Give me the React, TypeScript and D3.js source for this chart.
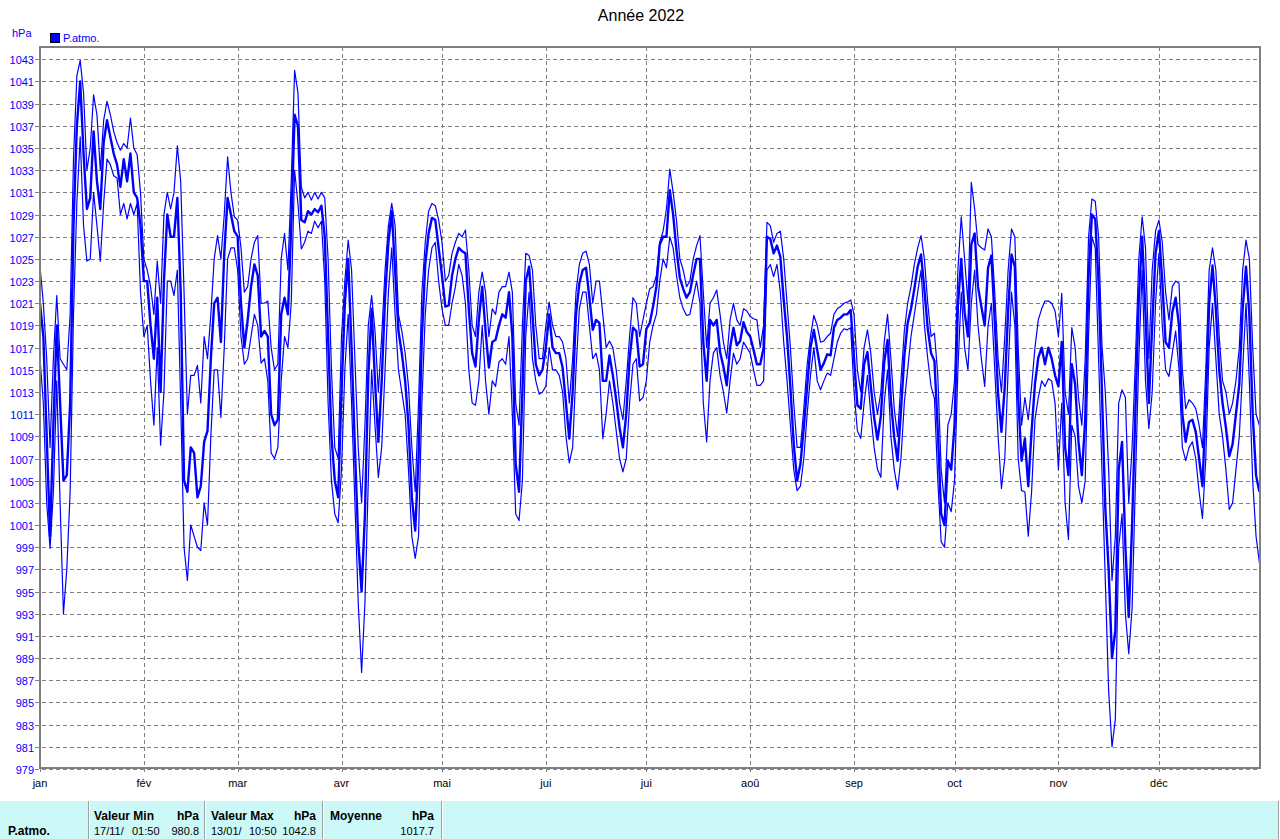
import React from "react";
import * as d3 from "d3";

const TITLE = "Année 2022";
const UNIT = "hPa";
const SERIES_NAME = "P.atmo.";
const monthLabels = ["jan", "fév", "mar", "avr", "mai", "jui", "jui", "aoû", "sep", "oct", "nov", "déc"];
const monthStartDays = [0, 31, 59, 90, 120, 151, 181, 212, 243, 273, 304, 334];
const yTicks = d3.range(979, 1044, 2);

// daily mean pressure (hPa), day 0 = 1 Jan
const meanValues = [
  1021, 1018, 1009, 1000, 1010, 1019, 1012, 1005, 1005.5, 1012, 1028, 1037, 1041, 1034.5, 1029.5, 1030.5, 1036.5, 1032, 1029.5, 1035.5, 1037.5, 1036, 1034.5, 1033.5, 1031.5, 1034, 1032, 1034.5, 1031, 1030.5, 1028,
  1023, 1023, 1019, 1016, 1021.5, 1013, 1023, 1029, 1027, 1027, 1030.5, 1022, 1005, 1004, 1008, 1007.5, 1003.5, 1004.5, 1008.5, 1009.5, 1016, 1021, 1021.5, 1017.5, 1025.5, 1030.5, 1029, 1027.5,
  1027, 1021, 1017, 1019.5, 1022.5, 1024.5, 1023.5, 1018, 1018.5, 1018, 1011, 1010, 1010.5, 1020, 1021.5, 1020, 1028, 1038, 1037, 1028.5, 1028.3, 1029.3, 1029, 1029.5, 1029.2, 1029.8, 1027, 1018, 1009, 1005, 1003.5,
  1013, 1021, 1025, 1017, 1008, 999.5, 995, 1002, 1014.5, 1020.5, 1014, 1008.5, 1014, 1021.5, 1026.5, 1029.3, 1024, 1018.5, 1016.5, 1014, 1010, 1003.5, 1000.5, 1007, 1018, 1024.5, 1027.3, 1028.7, 1028.5, 1026,
  1023.5, 1020.7, 1020.8, 1023.5, 1025, 1026, 1025.7, 1025.5, 1020.5, 1016.5, 1015.3, 1019.5, 1022.5, 1018.5, 1015.2, 1017.5, 1017.7, 1019, 1020, 1019.7, 1022, 1018, 1006.5, 1004, 1013, 1023, 1024.3, 1020, 1015.5, 1014.5, 1015,
  1017, 1020, 1017, 1016.5, 1016.5, 1015.2, 1012, 1008.8, 1013, 1020, 1022.8, 1024, 1024.2, 1021.5, 1018.6, 1019.5, 1019.2, 1014, 1014, 1016.3, 1014.5, 1012.3, 1009.8, 1008, 1011, 1016, 1018.8, 1018.5, 1015.3, 1015.5,
  1018.7, 1019.2, 1020.7, 1022.5, 1026.3, 1027, 1027, 1031.2, 1029, 1025.8, 1023.3, 1022.3, 1021.5, 1022, 1023.6, 1025, 1025, 1017.5, 1014, 1019.5, 1019, 1019.5, 1016.6, 1015.3, 1013.6, 1017, 1018.8, 1017.2, 1017.6, 1019.3, 1018.4,
  1018, 1016.8, 1015.5, 1015.5, 1017, 1027, 1026.8, 1025.5, 1026.2, 1025.2, 1021.3, 1018, 1013.4, 1008.3, 1005, 1006.5, 1009.8, 1013.5, 1017, 1018.6, 1016.8, 1015, 1015.6, 1016.4, 1016.3, 1018.8, 1019.5, 1019.7, 1020, 1020, 1020.4,
  1016, 1011.8, 1011.5, 1015.5, 1016.6, 1013.5, 1010.7, 1008.7, 1010.8, 1015.7, 1017.7, 1012.2, 1008.9, 1006.8, 1011.3, 1016.2, 1019.2, 1020.5, 1022.3, 1024.3, 1025.4, 1022.2, 1018.7, 1016.5, 1015.8, 1009.5, 1002, 1001, 1006.8, 1006,
  1010, 1020.8, 1025, 1020.2, 1018, 1026.3, 1027.3, 1022.5, 1020.7, 1019, 1024.2, 1025.3, 1019.4, 1012.8, 1009.4, 1013.5, 1020.4, 1025.4, 1024.3, 1012.5, 1006.8, 1008.8, 1004.5, 1009.5, 1013.7, 1016.1, 1017, 1015.5, 1017, 1016, 1014.5,
  1013.5, 1017.5, 1008, 1005.5, 1015.5, 1013.7, 1008.5, 1005.5, 1010.5, 1023.5, 1029, 1028.6, 1022.8, 1013, 1002.5, 997, 989, 991.5, 1006, 1008.5, 999, 992.7, 1001, 1011.5, 1021.5, 1027, 1020, 1012, 1019, 1025.5,
  1027.5, 1023, 1017.5, 1017, 1020.2, 1021.5, 1019, 1011, 1008.5, 1010.3, 1010.5, 1009.4, 1007, 1004.5, 1012, 1021, 1024.4, 1020.5, 1015, 1012, 1009.8, 1007.2, 1008.3, 1011, 1013.7, 1020.5, 1024.3, 1020, 1011, 1005.5, 1004,
];

// daily maximum envelope (hPa)
const maxValues = [
  1024.3, 1021, 1016, 1008, 1016, 1021.7, 1016, 1015.5, 1015, 1020, 1034, 1041.5, 1042.9, 1040, 1033, 1035, 1039.8, 1038, 1033, 1037.5, 1039.2, 1038, 1036.5, 1035.5, 1034.8, 1035.4, 1035, 1037.7, 1035, 1034.4, 1031,
  1025, 1024, 1022.5, 1020, 1024.8, 1021, 1029, 1031, 1029.5, 1031, 1035.2, 1032, 1022, 1011, 1014.5, 1014.5, 1015.4, 1012, 1018, 1016, 1020, 1025, 1027.1, 1025, 1029, 1034.2, 1031, 1028.8,
  1028.5, 1026, 1022, 1022.5, 1025, 1026.5, 1027.1, 1021, 1021, 1021.2, 1017, 1015, 1015.5, 1025, 1027.3, 1024, 1032, 1042, 1040, 1031.5, 1030.5, 1031, 1030.3, 1031, 1030.4, 1031, 1030.5, 1025, 1015, 1008, 1007,
  1018, 1023, 1026.7, 1024, 1016, 1008, 1003, 1010, 1019, 1021.7, 1018.5, 1013, 1018, 1024, 1028, 1030, 1028, 1020, 1018.5, 1016.5, 1013.5, 1008, 1004, 1012, 1022, 1026.5, 1029.3, 1030, 1029.8, 1028.5,
  1026.5, 1023, 1023.5, 1025.5, 1026.5, 1027.3, 1027, 1027.6, 1024, 1019, 1018, 1022, 1023.8, 1022, 1018, 1020.5, 1020, 1022, 1022.5, 1022.5, 1023.8, 1022, 1012, 1010, 1019, 1025.5, 1025.3, 1024, 1019, 1016, 1016,
  1019, 1021.1, 1019, 1018, 1018, 1017.5, 1016, 1012, 1016, 1022, 1024.5, 1025.5, 1025.7, 1024.5, 1021, 1023, 1023, 1020, 1017, 1017.6, 1017, 1015, 1012, 1010.5, 1014, 1018, 1021.5, 1021, 1018, 1019.5,
  1021, 1022.3, 1022.5, 1023.5, 1026.5, 1027.5, 1029.5, 1033.1, 1031, 1028.5, 1025, 1024, 1022.5, 1023, 1025, 1026.2, 1027.1, 1022, 1017, 1021, 1021.5, 1022.2, 1020, 1017.5, 1016, 1019.5, 1021, 1019.5, 1019, 1020.5, 1020.3,
  1019.8, 1019.6, 1019.5, 1017, 1019, 1028.3, 1028, 1026.5, 1027.3, 1027.5, 1025, 1021, 1017, 1012, 1008, 1008, 1011.5, 1015.5, 1018, 1019.9, 1019, 1017.5, 1017.6, 1018, 1018.3, 1020, 1020.5, 1020.7, 1021, 1021.1, 1021.3,
  1020, 1015, 1013, 1017, 1018.6, 1016.5, 1013, 1011, 1013, 1017.5, 1020, 1016, 1011.5, 1009, 1014, 1018.5, 1021, 1022.5, 1024.5, 1026, 1027.1, 1025, 1021, 1018, 1018.3, 1014.5, 1006, 1003, 1010, 1011,
  1014, 1024, 1028.8, 1025, 1021, 1031.9, 1029.5, 1026.3, 1026, 1025.8, 1027.7, 1027, 1022, 1016, 1013, 1018, 1024, 1027.7, 1027, 1017, 1010, 1012.5, 1010.5, 1013.5, 1017, 1019.5, 1020.5, 1021.2, 1021.2, 1021, 1020.3,
  1018, 1021.9, 1013, 1011, 1018.8, 1017, 1012.5, 1010, 1016, 1027, 1030.4, 1030.2, 1027, 1017.2, 1013, 1006, 996, 1000, 1012, 1013.2, 1012.5, 1003, 1008, 1016, 1025, 1028.8, 1026, 1016, 1024, 1027.5,
  1028.5, 1026.5, 1022, 1019.5, 1022.5, 1023, 1022.8, 1015, 1011.5, 1012.3, 1012, 1011.5, 1010, 1008, 1015, 1024, 1026, 1024, 1018, 1014, 1013, 1011, 1012, 1014, 1017, 1024, 1026.7, 1025, 1017, 1011, 1010,
];

// daily minimum envelope (hPa)
const minValues = [
  1016, 1012, 1003, 998.9, 1004, 1014, 1003, 993, 997, 1004, 1020, 1030, 1036, 1028, 1024.8, 1025, 1031, 1028, 1024.8, 1030, 1034, 1033.5, 1032.5, 1032.3, 1029, 1030, 1028.6, 1030, 1029, 1030, 1022,
  1018, 1019, 1014, 1010, 1017, 1008.2, 1013, 1023, 1023, 1021.7, 1024, 1012, 999, 996, 1001, 1000, 999, 998.7, 1003, 1001, 1009, 1015, 1015, 1010.7, 1017, 1025, 1026, 1026,
  1024, 1018, 1015.5, 1016, 1018, 1020, 1019, 1015.6, 1016, 1014, 1007.5, 1007, 1008, 1014, 1018, 1017, 1021, 1033, 1030, 1025.9, 1026.5, 1027.5, 1027.3, 1028.4, 1027.8, 1028.4, 1023, 1012, 1005, 1002, 1001.2,
  1006, 1015, 1020, 1012, 1003, 994, 987.7, 994, 1005, 1015, 1010, 1005.3, 1008, 1015, 1022, 1026, 1020, 1015, 1013, 1011, 1006, 1000, 998, 1000, 1012, 1020, 1024, 1026, 1026.5, 1023,
  1020.5, 1019, 1019, 1021, 1022.5, 1024.5, 1023.5, 1021, 1015, 1012, 1011.8, 1014, 1019, 1014, 1011, 1014, 1013.5, 1015.7, 1016, 1015.5, 1018, 1011, 1002, 1001.4, 1005, 1018, 1022, 1016, 1014, 1012.8, 1013,
  1013.5, 1017, 1015, 1015, 1014.5, 1013, 1009, 1006.6, 1008, 1015, 1020.5, 1022, 1022, 1019, 1016, 1016.5, 1015, 1008.8, 1011, 1014, 1012, 1009.5, 1007, 1005.8, 1007, 1012, 1015.5, 1016, 1012.2, 1012.5,
  1014, 1017.5, 1019, 1020, 1023, 1025, 1024.2, 1027, 1026, 1023.5, 1021.5, 1020.5, 1019.9, 1020, 1021.5, 1023, 1021, 1012, 1008.5, 1014, 1016.5, 1017, 1014.5, 1013, 1011.1, 1014, 1016.5, 1015.5, 1016, 1017.5, 1017,
  1016.5, 1015, 1013.6, 1013.6, 1014, 1024, 1024.5, 1023.4, 1024.5, 1022, 1017.5, 1014, 1010, 1006, 1004.1, 1004.5, 1007, 1011, 1014.5, 1017, 1014, 1013.2, 1014, 1014.7, 1014.5, 1016, 1017.5, 1018.3, 1018.7, 1018.6, 1018.8,
  1013, 1009.5, 1008.8, 1012, 1014.5, 1011, 1008, 1006, 1005.3, 1012, 1015, 1009, 1006, 1004.2, 1007, 1012, 1015, 1018, 1020, 1022, 1024, 1019, 1016, 1013.5, 1012.4, 1005, 999.5, 999, 1003, 1002.2,
  1005, 1015, 1022, 1017, 1015, 1021, 1024, 1019, 1016, 1013.5, 1019, 1021, 1015, 1009, 1004.3, 1007, 1015, 1022, 1019, 1007, 1004.1, 1004, 1000, 1004, 1010.5, 1012.5, 1014, 1013.5, 1014.2, 1014, 1012,
  1006, 1012, 1003, 999.7, 1010, 1009, 1004.5, 1003, 1005, 1018, 1027, 1026, 1016, 1006, 996, 986, 981, 983.5, 999, 1002, 993, 989.4, 993.5, 1005, 1016, 1024, 1014, 1009.7, 1013, 1021,
  1025.5, 1019, 1015, 1014.4, 1016.5, 1018.5, 1015, 1008, 1006.8, 1008, 1008.5, 1007, 1004, 1001.6, 1007, 1017, 1021, 1016, 1011, 1009, 1006, 1002.4, 1003, 1006, 1009, 1015, 1021, 1014, 1005, 1000, 997.6,
];

const tableColumns = ["Valeur Min", "Valeur Max", "Moyenne"];
const tableDates = ["17/11/", "13/01/", ""];
const tableTimes = ["01:50", "10:50", ""];
const tableValues = ["980.8", "1042.8", "1017.7"];

const FONT = "'Liberation Sans', Arial, sans-serif";
const BLUE = "#0000ff";
const GRID = "#808080";

export default function App() {
  const W = 1280;
  const H = 839;
  const left = 40;
  const right = 1260;
  const top = 47;
  const bottom = 768;

  const x = d3.scaleLinear().domain([0, 365]).range([left, left + 365 * 3.35]);
  const y = d3.scaleLinear().domain([979, 1043]).range([769, 59.3]);

  const line = d3
    .line<number>()
    .x((_, i) => x(i))
    .y((v) => y(v));

  const colLeft = [94, 211, 330];
  const colRight = [199, 316, 434];
  const seps = [88, 204, 322, 441, 1278];

  return (
    <div style={{ position: "absolute", left: 0, top: 0 }}>
      <svg width={W} height={H} style={{ display: "block", background: "#fff" }} fontFamily={FONT}>
        <defs>
          <clipPath id="plotClip">
            <rect x={left} y={top} width={right - left} height={bottom - top} />
          </clipPath>
        </defs>
        <rect x={0} y={0} width={W} height={H} fill="#fff" />

        <text x={641} y={21} textAnchor="middle" fontSize={16} fill="#000">
          {TITLE}
        </text>
        <text x={12} y={37} fontSize={11} fill={BLUE}>
          {UNIT}
        </text>
        <rect x={50.5} y={33.5} width={9} height={9} fill={BLUE} stroke="#000" strokeWidth={1} />
        <text x={63} y={42} fontSize={11} fill={BLUE}>
          {SERIES_NAME}
        </text>

        {yTicks.map((t) => (
          <g key={t}>
            <line
              x1={35}
              x2={right}
              y1={Math.round(y(t)) + 0.5}
              y2={Math.round(y(t)) + 0.5}
              stroke={GRID}
              strokeDasharray="4,3"
              shapeRendering="crispEdges"
            />
            <text x={34} y={Math.round(y(t)) + 4.5} textAnchor="end" fontSize={11} fill={BLUE}>
              {t}
            </text>
          </g>
        ))}

        {monthStartDays.map((d, i) => (
          <g key={i}>
            <line
              x1={Math.round(x(d)) + 0.5}
              x2={Math.round(x(d)) + 0.5}
              y1={top}
              y2={774}
              stroke={GRID}
              strokeDasharray="4,3"
              shapeRendering="crispEdges"
            />
            <text x={x(d)} y={787} textAnchor="middle" fontSize={11} fill="#000">
              {monthLabels[i]}
            </text>
          </g>
        ))}

        <g clipPath="url(#plotClip)" fill="none" stroke={BLUE} strokeLinejoin="round">
          <path d={line(maxValues) || ""} strokeWidth={1.2} />
          <path d={line(minValues) || ""} strokeWidth={1.2} />
          <path d={line(meanValues) || ""} strokeWidth={2.4} />
        </g>

        <rect
          x={left}
          y={top}
          width={right - left}
          height={bottom - top}
          fill="none"
          stroke={GRID}
          strokeWidth={2}
        />

        <rect x={0} y={801} width={W} height={H - 801} fill="#ccf8f8" />
        {seps.map((s) => (
          <g key={s}>
            <line x1={s + 0.5} x2={s + 0.5} y1={801} y2={H} stroke="#a0a0a0" />
            <line x1={s + 1.5} x2={s + 1.5} y1={801} y2={H} stroke="#ffffff" />
          </g>
        ))}
        <text x={8} y={835} fontSize={12} fontWeight="bold" fill="#000">
          {SERIES_NAME}
        </text>
        {tableColumns.map((c, i) => (
          <g key={c}>
            <text x={colLeft[i]} y={820} fontSize={12} fontWeight="bold" fill="#000">
              {c}
            </text>
            <text x={colRight[i]} y={820} fontSize={12} fontWeight="bold" fill="#000" textAnchor="end">
              {UNIT}
            </text>
            {tableDates[i] && (
              <text x={colLeft[i]} y={835} fontSize={11} fill="#000">
                {tableDates[i]}
              </text>
            )}
            {tableTimes[i] && (
              <text x={colLeft[i] + 38} y={835} fontSize={11} fill="#000">
                {tableTimes[i]}
              </text>
            )}
            <text x={colRight[i]} y={835} fontSize={11} fill="#000" textAnchor="end">
              {tableValues[i]}
            </text>
          </g>
        ))}
      </svg>
    </div>
  );
}
